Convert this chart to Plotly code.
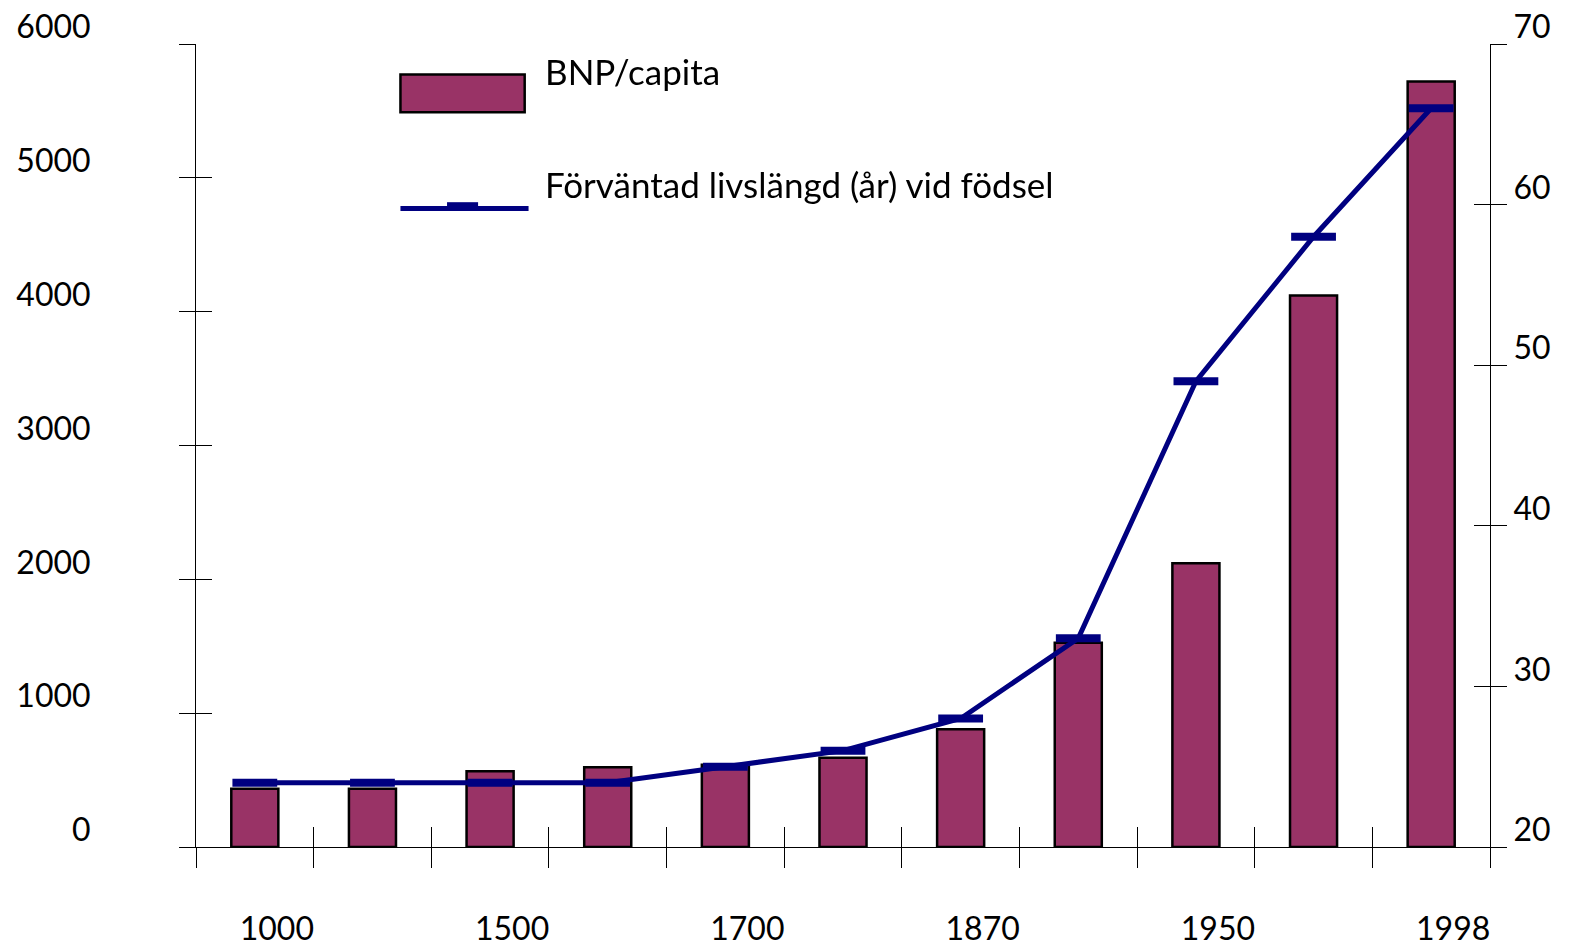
import plotly.graph_objects as go

years = ["1000", "1300", "1500", "1600", "1700", "1820", "1870", "1913", "1950", "1973", "1998"]
tick_labels = ["1000", "", "1500", "", "1700", "", "1870", "", "1950", "", "1998"]
gdp_per_capita = [436, 436, 566, 596, 615, 667, 880, 1526, 2120, 4120, 5720]
life_expectancy = [24, 24, 24, 24, 25, 26, 28, 33, 49, 58, 66]

series_names = ["BNP/capita", "Förväntad livslängd (år) vid födsel"]

FONT = "Lato"
BAR_COLOR = "#993366"
LINE_COLOR = "#000080"

fig = go.Figure()
fig.add_trace(go.Bar(
    x=years, y=gdp_per_capita, name=series_names[0],
    marker=dict(color=BAR_COLOR, line=dict(color="black", width=2.5)),
    xaxis="x", yaxis="y", showlegend=False,
))
fig.add_trace(go.Scatter(
    x=years, y=life_expectancy, name=series_names[1],
    mode="lines+markers",
    line=dict(color=LINE_COLOR, width=5),
    marker=dict(symbol="line-ew", size=32, line=dict(color=LINE_COLOR, width=8)),
    xaxis="x2", yaxis="y2", showlegend=False,
))
# invisible helper traces so the overlay tick axes are drawn
fig.add_trace(go.Scatter(x=years, y=gdp_per_capita, mode="markers", opacity=0,
                         xaxis="x", yaxis="y3", showlegend=False, hoverinfo="skip"))
fig.add_trace(go.Scatter(x=years, y=life_expectancy, mode="markers", opacity=0,
                         xaxis="x", yaxis="y4", showlegend=False, hoverinfo="skip"))

tick_font = dict(family=FONT, size=32, color="black")
legend_font = dict(family=FONT, size=35, color="black")

# custom legend (keys are layout decorations in paper coordinates)
shapes = [
    dict(type="rect", xref="paper", yref="paper", x0=0.158, x1=0.254, y0=0.915, y1=0.962,
         fillcolor=BAR_COLOR, line=dict(color="black", width=2.5)),
    dict(type="line", xref="paper", yref="paper", x0=0.158, x1=0.257, y0=0.795, y1=0.795,
         line=dict(color=LINE_COLOR, width=5)),
    dict(type="rect", xref="paper", yref="paper", x0=0.194, x1=0.218, y0=0.795, y1=0.803,
         fillcolor=LINE_COLOR, line=dict(width=0)),
]
annotations = [
    dict(text=series_names[0], xref="paper", yref="paper", x=0.268, y=0.966,
         xanchor="left", yanchor="middle", showarrow=False, font=legend_font),
    dict(text=series_names[1], xref="paper", yref="paper", x=0.268, y=0.826,
         xanchor="left", yanchor="middle", showarrow=False, font=legend_font),
]

fig.update_layout(
    width=1590, height=946,
    margin=dict(l=188, r=108, t=36, b=107, autoexpand=False),
    paper_bgcolor="white", plot_bgcolor="white",
    bargap=0.6,
    font=dict(family=FONT, size=32, color="black"),
    showlegend=False,
    shapes=shapes, annotations=annotations,
    xaxis=dict(
        type="category", categoryorder="array", categoryarray=years,
        tickmode="array", tickvals=years, ticktext=tick_labels,
        tickson="boundaries", ticks="outside", ticklen=20, tickwidth=1, tickcolor="black",
        showline=True, linecolor="black", linewidth=1,
        showgrid=False, zeroline=False, automargin=False,
        tickfont=tick_font, ticklabelstandoff=54, ticklabelshift=22,
        ticklabeloverflow="allow", range=[-0.5, 10.5],
    ),
    xaxis2=dict(
        type="category", categoryorder="array", categoryarray=years,
        tickmode="array", tickvals=years, ticktext=tick_labels,
        overlaying="x", anchor="y", side="bottom",
        tickson="boundaries", ticks="inside", ticklen=20, tickwidth=1, tickcolor="black",
        showticklabels=False, showline=False, showgrid=False, zeroline=False,
        automargin=False, range=[-0.5, 10.5],
    ),
    yaxis=dict(
        range=[0, 6000], tickmode="linear", tick0=0, dtick=1000,
        ticks="outside", ticklen=16, tickwidth=1, tickcolor="black",
        showline=True, linecolor="black", linewidth=1,
        showgrid=False, zeroline=False, automargin=False,
        tickfont=tick_font, ticklabelstandoff=82, ticklabelshift=-17,
        ticklabeloverflow="allow",
    ),
    yaxis2=dict(
        range=[20, 70], tickmode="linear", tick0=20, dtick=10,
        overlaying="y", side="right", anchor="x",
        ticks="outside", ticklen=16, tickwidth=1, tickcolor="black",
        showline=True, linecolor="black", linewidth=1,
        showgrid=False, zeroline=False, automargin=False,
        tickfont=tick_font, ticklabelstandoff=0, ticklabelshift=-17,
        ticklabeloverflow="allow",
    ),
    yaxis3=dict(
        range=[0, 6000], tickmode="linear", tick0=0, dtick=1000,
        overlaying="y", side="left", anchor="x",
        ticks="inside", ticklen=16, tickwidth=1, tickcolor="black",
        showticklabels=False, showline=False, showgrid=False, zeroline=False,
        automargin=False,
    ),
    yaxis4=dict(
        range=[20, 70], tickmode="linear", tick0=20, dtick=10,
        overlaying="y", side="right", anchor="x",
        ticks="inside", ticklen=16, tickwidth=1, tickcolor="black",
        showticklabels=False, showline=False, showgrid=False, zeroline=False,
        automargin=False,
    ),
)

fig.write_html("out.html")
